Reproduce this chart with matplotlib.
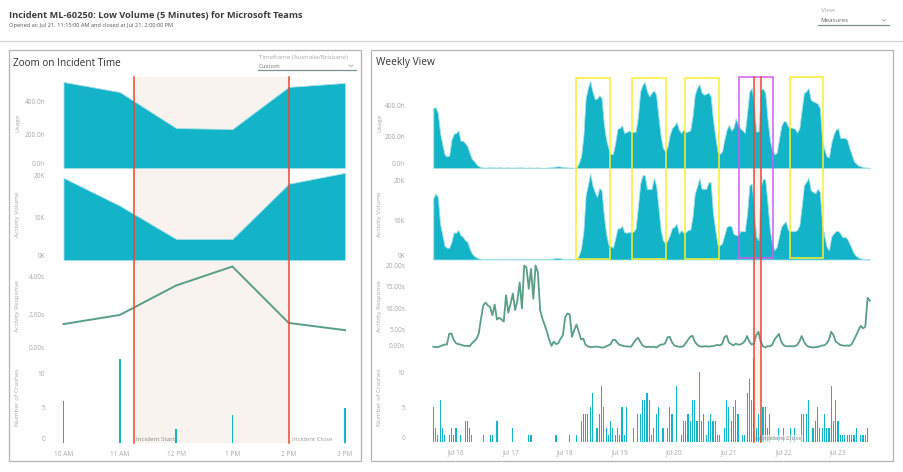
import numpy as np
import matplotlib
matplotlib.use("Agg")
import matplotlib.pyplot as plt
from matplotlib.lines import Line2D
from matplotlib.patches import Rectangle
from matplotlib.transforms import blended_transform_factory as blend

plt.rcParams['font.family'] = ['Open Sans', 'DejaVu Sans']

W, H = 904, 472
TEAL = '#14b4c8'; EDGE = '#a5e0e8'; GREEN = '#5a9e85'; RED = '#f0452e'; SHADE = '#f8f3ee'
TXT = '#a8a8a8'; FRAME = '#b4b4b4'

# ---- zoom panel data ----
zoom_hours = [10, 11, 12, 13, 14, 15]
zoom_labels = ['10 AM', '11 AM', '12 PM', '1 PM', '2 PM', '3 PM']
zoom_usage = [521, 460, 242, 236, 491, 515]
zoom_volume = [19.5, 12.9, 5.0, 5.0, 18.1, 20.7]
zoom_response = [1.47, 1.95, 3.5, 4.5, 1.53, 1.15]
zoom_crashes = [6, 12, 2, 4, 0, 5]
incident_zoom = [11.25, 14.0]

# ---- weekly data: hourly, first value is 10 h before Jul 16 00:00 ----
week_usage = [387,393,355,226,150,86,75,80,183,221,226,243,176,176,161,140,97,58,43,24,11,6,
    4,3,4,5,4,4,3,5,4,3, 4,4,3,3,4,3,5,4,3,3, 4,3,2,3,4,2,1,2,3,4, 6,8,9,11,9,7,5,4,3,3,2,2,
    32,75,204,451,516,563,494,445,447,469,451,290,183,129,90,90,161,254,258,275,226,232,241,
    232,232,236,333,494,537,555,494,462,484,501,473,333,204,129,107,140,215,258,273,297,247,226,247,232,236,243,
    333,473,516,542,488,473,477,488,462,312,204,107,92,107,183,247,280,243,258,322,280,254,243,226,
    355,494,516,419,236,236,505,512,484,312,183,118,90,97,183,269,301,301,269,262,258,254,230,258,
    376,484,494,516,441,430,424,415,387,183,118,75,69,161,215,247,258,194,194,194,183,129,86,43,28,15,11,6,4,2,0]
week_volume = [15.5,16.8,15.9,9.1,6.2,3.4,3.0,3.0,4.5,6.9,6.8,7.5,6.2,5.8,4.9,4.5,2.8,1.5,0.9,0.5,0.3,0.2,
    .1,.1,.2,.1,.1,.2,.1,.1,.2,.1, .1,.1,.2,.1,.1,.1,.2,.1,.1,.1, .1,.1,.1,.1,.1,.1,.05,.1,.1,.2, .2,.3,.4,.4,.3,.2,.2,.1,.1,.1,.1,.1,
    1.1,2.8,7.0,16.3,18.9,21.9,18.9,17.2,15.9,18.2,17.6,11.3,6.6,3.8,3.4,3.0,5.3,7.9,7.9,8.6,7.0,6.8,7.0,
    6.9,7.1,7.9,13.4,19.3,21.4,21.4,17.9,17.9,17.9,20.8,18.9,13.4,7.5,4.9,4.1,4.9,6.2,8.0,8.3,9.1,6.6,7.5,6.8,7.0,7.5,7.6,
    10.8,16.8,18.5,20.8,18.0,18.0,17.9,19.6,19.6,11.7,7.5,3.8,3.6,4.1,6.2,8.3,8.6,8.6,6.6,6.2,6.2,7.2,7.2,7.2,
    11.7,18.9,19.3,13.4,5.8,4.9,18.5,20.6,20.3,14.2,7.5,4.1,2.4,3.2,5.8,8.3,9.1,9.7,7.5,7.2,7.2,7.2,7.5,8.7,
    13.4,18.9,19.7,20.8,17.6,17.2,16.8,18.0,17.2,9.1,5.8,3.2,2.4,5.8,6.6,7.2,7.3,6.6,5.6,5.8,5.3,4.1,2.8,1.5,.9,.5,.3,.2,.1,.05,0]
week_response = [.9,.8,.8,1.0,1.2,1.4,1.4,3.9,4.0,2.5,1.7,1.5,1.4,1.2,1.1,1.1,1.0,1.7,2.2,2.7,4.0,7.5,
    10.6,11.3,10.6,10.2,8.3,10.8,7.3,7.7,7.3,6.8,13.0,8.9,11.0,13.4,9.5,11.8,16.0,9.9,20.0,19.5,14.5,19.2,12.2,20.0,18.4,
    9.5,7.5,6.0,4.4,2.5,1.1,2.1,1.5,1.7,2.8,3.6,7.8,8.7,8.5,3.2,4.8,6.1,4.4,2.6,2.8,1.3,1.0,.8,.8,.9,.9,.8,.7,.7,1.0,1.2,1.5,2.5,2.5,1.8,1.3,1.2,1.0,1.0,.9,
    .9,1.7,2.5,3.0,2.1,1.2,.9,.8,.9,.8,.9,.7,1.0,1.4,1.4,1.7,3.1,3.2,1.9,1.2,1.0,.9,.9,1.0,1.7,2.5,3.2,3.5,2.1,1.4,1.0,.9,1.0,1.0,.9,1.0,1.0,1.2,1.3,1.2,1.5,
    3.1,3.5,1.9,1.5,1.2,1.6,1.4,1.4,1.7,2.2,3.4,2.1,1.4,1.7,3.6,4.4,2.1,1.0,.7,1.0,1.0,1.3,2.5,3.2,3.9,2.1,1.3,1.0,1.0,1.0,1.0,1.0,1.3,2.1,3.4,2.1,1.3,.9,.8,.7,.8,.8,1.0,1.2,1.2,1.7,2.5,4.4,3.6,2.1,1.7,1.3,1.2,1.1,1.2,1.1,1.5,2.5,3.6,4.8,5.8,5.2,5.6,12.4,11.7]
crash_hours = [-10,-9,-8,-7,-6,-5,-3,-2,-1,0,2,4,5,6,7,12,15,16,18,25,32,33,44,50,53,55,56,57,58,59,60,62,63,64,65,66,67,68,69,70,71,72,73,74,75,78,
    80,81,82,83,84,85,86,87,88,89,91,93,94,95,97,99,100,101,102,103,104,105,106,107,108,109,110,111,112,113,114,115,116,118,119,120,121,122,123,124,126,127,128,129,130,131,132,133,134,135,136,137,138,142,144,147,149,152,153,154,155,157,158,159,160,161,162,163,164,165,166,167,168,169,170,171,172,173,174,175,176,178,179,180,181]
crash_counts = [5,2,1,6,2,1,1,2,1,2,1,3,3,2,1,1,1,1,3,2,1,1,1,1,1,3,4,4,4,5,7,2,4,8,5,2,1,3,2,1,2,1,5,1,5,2,
    4,4,6,6,7,6,1,2,4,5,2,2,5,4,8,1,3,3,4,3,6,6,3,10,3,4,1,3,4,3,3,1,1,2,6,5,3,5,6,4,1,1,7,9,6,12,2,4,1,5,5,2,4,2,2,2,2,4,4,4,6,2,3,5,2,2,4,2,2,8,3,6,3,1,1,1,1,1,1,1,2,1,1,1,2]
week_ticks = [0, 24, 48, 72, 96, 120, 144, 168]
week_labels = ['Jul 16', 'Jul 17', 'Jul 18', 'Jul 19', 'Jul 20', 'Jul 21', 'Jul 22', 'Jul 23']
incident_week = [131.25, 134.0]
yellow_boxes = [(52.8, 67.8), (77.3, 92.3), (100.8, 115.8), (146.7, 161.5)]
purple_box = (124.3, 139.5)

fig = plt.figure(figsize=(W/100, H/100), dpi=100, facecolor='white')

def axpx(x0, y0, x1, y1):
    ax = fig.add_axes([x0/W, 1-y1/H, (x1-x0)/W, (y1-y0)/H])
    ax.patch.set_alpha(0)
    for s in ax.spines.values():
        s.set_visible(False)
    ax.axhline(0, color='#f2f2f2', lw=0.6, zorder=0)
    ax.tick_params(axis='both', length=0, labelsize=4.7, labelcolor=TXT, pad=3.5)
    ax.set_xticks([])
    return ax

def fy(y):
    return 1 - y/H

def yaxis(ax, ticks, labels, title, xpx):
    ax.set_yticks(ticks)
    ax.set_yticklabels(labels)
    ax.get_yticklabels()[0].set_va('bottom')
    ax.text(xpx/W, 0.5, title, rotation=90, transform=blend(fig.transFigure, ax.transAxes),
            ha='center', va='center', fontsize=4.6, color=TXT)

def overlay(ax, xs, y0, y1):
    tr = blend(ax.transData, fig.transFigure)
    fig.add_artist(Rectangle((xs[0], fy(y1)), xs[1]-xs[0], fy(y0)-fy(y1), transform=tr,
                             facecolor=SHADE, edgecolor='none', zorder=-1))
    for x in xs:
        fig.add_artist(Line2D([x, x], [fy(y0), fy(y1)], transform=tr, color=RED, lw=1.1, zorder=5))

def area(ax, x, y):
    ax.fill_between(x, y, 0, color=TEAL, lw=0.6, edgecolor=EDGE, zorder=2)

# frames and header
fig.add_artist(Line2D([0, 1], [fy(40.5)]*2, color='#d4d4d4', lw=0.9))
for (a, b, c, d) in [(8.5, 49.5, 361.5, 460.5), (371.5, 49.5, 892.5, 460.5)]:
    fig.add_artist(Rectangle((a/W, fy(d)), (c-a)/W, (d-b)/H, fill=False, edgecolor=FRAME, lw=0.9))
fig.text(9/W, fy(15), 'Incident ML-60250: Low Volume (5 Minutes) for Microsoft Teams', fontsize=6.65,
         fontweight='bold', color='#3c3c3c', va='center')
fig.text(9/W, fy(25.5), 'Opened at: Jul 21, 11:15:00 AM and closed at Jul 21, 2:00:00 PM', fontsize=4.1,
         color='#555555', va='center')
fig.text(13/W, fy(63), 'Zoom on Incident Time', fontsize=7.2, color='#333333', va='center')
fig.text(376/W, fy(63), 'Weekly View', fontsize=7.3, color='#333333', va='center')
fig.text(259/W, fy(57), 'Timeframe (Australia/Brisbane)', fontsize=4.45, color=TXT, va='center')
fig.text(259/W, fy(66), 'Custom', fontsize=4.3, color='#777777', va='center')
fig.text(821/W, fy(10), 'View', fontsize=4.6, color=TXT, va='center')
fig.text(820/W, fy(20), 'Measures', fontsize=4.4, color='#666666', va='center')
for x0, x1, y in [(258, 356, 70), (818, 889, 24.5)]:
    fig.add_artist(Line2D([x0/W, x1/W], [fy(y)]*2, color='#7f9090', lw=0.9))
    xc = x1 - 5
    fig.add_artist(Line2D([(xc-2)/W, xc/W, (xc+2)/W], [fy(y-5), fy(y-3.5), fy(y-5)], color='#999999', lw=0.5))

# ---- left panel ----
LX0, LX1 = 50, 360
lxlim = (10 - (63.5-50)/56.3, 10 + (360-63.5)/56.3)
a1 = axpx(LX0, 77, LX1, 168); a2 = axpx(LX0, 169, LX1, 260)
a3 = axpx(LX0, 261, LX1, 352); a4 = axpx(LX0, 352, LX1, 443)
for ax in (a1, a2, a3, a4):
    ax.set_xlim(lxlim)
area(a1, zoom_hours, zoom_usage); a1.set_ylim(0, 551)
area(a2, zoom_hours, zoom_volume); a2.set_ylim(0, 21.6)
a3.plot(zoom_hours, zoom_response, color=GREEN, lw=1.4, zorder=2); a3.set_ylim(0, 4.79)
a4.bar(zoom_hours, zoom_crashes, width=0.026, color=TEAL, zorder=2); a4.set_ylim(0, 13)
yaxis(a1, [0, 200, 400], ['0.0h', '200.0h', '400.0h'], 'Usage', 18)
yaxis(a2, [0, 10, 20], ['0K', '10K', '20K'], 'Activity Volume', 18)
yaxis(a3, [0, 2, 4], ['0.00s', '2.00s', '4.00s'], 'Activity Response', 18)
yaxis(a4, [0, 5, 10], ['0', '5', '10'], 'Number of Crashes', 18)
a4.set_xticks(zoom_hours); a4.set_xticklabels(zoom_labels)
a4.tick_params(axis='x', pad=5.5)
overlay(a1, incident_zoom, 77, 443)
a4.text(incident_zoom[0]+0.03, 0.2, 'Incident Start', fontsize=4.5, color='#8a8a8a', va='bottom', ha='left', zorder=6)
a4.text(incident_zoom[1]+0.05, 0.2, 'Incident Close', fontsize=4.4, color='#9a9a9a', va='bottom', ha='left', zorder=6)

# ---- right panel ----
RX0, RX1 = 410, 888
HPX = 2.274
rxlim = ((RX0-456)/HPX, (RX1-456)/HPX)
b1 = axpx(RX0, 77, RX1, 168); b2 = axpx(RX0, 169, RX1, 259.5)
b3 = axpx(RX0, 261, RX1, 350.5); b4 = axpx(RX0, 352, RX1, 442)
for ax in (b1, b2, b3, b4):
    ax.set_xlim(rxlim)
hu = np.arange(len(week_usage)) - 10
hv = np.arange(len(week_volume)) - 10
hr = np.arange(len(week_response)) - 10
area(b1, hu, week_usage); b1.set_ylim(0, 587)
area(b2, hv, week_volume); b2.set_ylim(0, 23)
b3.plot(hr, week_response, color=GREEN, lw=1.3, zorder=2); b3.set_ylim(0, 21.06)
b4.bar(crash_hours, crash_counts, width=0.5, color=TEAL, zorder=2); b4.set_ylim(0, 12.86)
yaxis(b1, [0, 200, 400], ['0.0h', '200.0h', '400.0h'], 'Usage', 380)
yaxis(b2, [0, 10, 20], ['0K', '10K', '20K'], 'Activity Volume', 380)
yaxis(b3, [0, 5, 10, 15, 20], ['0.00s', '5.00s', '10.00s', '15.00s', '20.00s'], 'Activity Response', 380)
yaxis(b4, [0, 5, 10], ['0', '5', '10'], 'Number of Crashes', 380)
b4.set_xticks(week_ticks); b4.set_xticklabels(week_labels)
b4.tick_params(axis='x', pad=5.5)
overlay(b1, incident_week, 77, 442)
trb = blend(b1.transData, fig.transFigure)
for box, col, yy in [(b, '#fbee2e', (77.7, 259.3)) for b in yellow_boxes[:3]] + \
        [(yellow_boxes[3], '#fbee2e', (76.7, 258)), (purple_box, '#d15cf5', (76.7, 258))]:
    fig.add_artist(Rectangle((box[0], fy(yy[1])), box[1]-box[0], fy(yy[0])-fy(yy[1]), transform=trb,
                             fill=False, edgecolor=col, lw=1.1, zorder=4))
b4.text(incident_week[0]+0.3, 0.15, 'Incident Start', fontsize=4.5, color='#9a9a9a', va='bottom', ha='left', zorder=6)
b4.text(incident_week[1]+0.3, 0.15, 'Incident Close', fontsize=4.5, color='#8a8a8a', va='bottom', ha='left', zorder=7,
        bbox=dict(facecolor='white', edgecolor='none', alpha=0.6, pad=0.5))

fig.savefig('out.png', dpi=100)
